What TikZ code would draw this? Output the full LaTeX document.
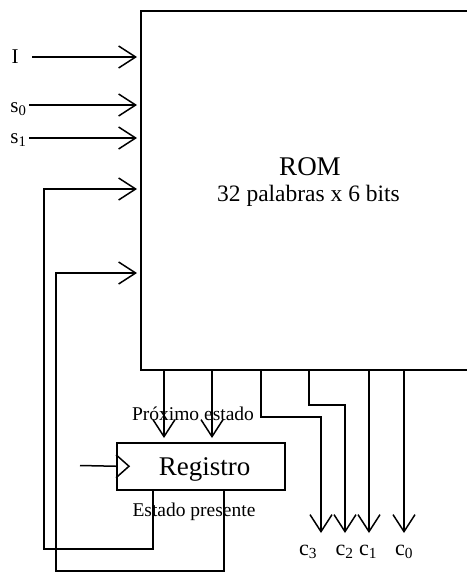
\documentclass[tikz,border=0pt]{standalone}
\usepackage{fontspec}
\setmainfont{Liberation Serif}
\usetikzlibrary{arrows.meta}
\begin{document}
\begin{tikzpicture}[x=1pt,y=-1pt,
  wire/.style={line width=1.5pt},
  arr/.style={wire,-{Straight Barb[length=17pt,width=22pt,line width=1.5pt]}},
  arrin/.style={arr,shorten >=3pt},
  lab/.style={inner sep=0pt,font=\fontsize{21}{21}\selectfont},
  clab/.style={inner sep=0pt,font=\fontsize{22}{22}\selectfont},
  small/.style={inner sep=0pt,font=\fontsize{19.5}{19.5}\selectfont},
  big/.style={inner sep=0pt,font=\fontsize{27}{27}\selectfont}]
\useasboundingbox (0,0) rectangle (466,573);
% ROM
\node[draw,wire,inner sep=0pt,minimum width=345pt,minimum height=359pt,anchor=north west] (rom) at (140,10) {};
\node[big,anchor=base] (romt) at (310,175) {ROM};
\node[inner sep=0pt,font=\fontsize{23.5}{23.5}\selectfont,anchor=base] (romd) at (308.5,201.5) {32 palabras x 6 bits};
% Register
\node[draw,wire,inner sep=0pt,minimum width=168pt,minimum height=47pt,anchor=north west] (reg) at (116,442) {};
\node[big,anchor=base] (regt) at (204.5,475) {Registro};
\draw[wire] (reg.west) ++(0,-11.5) -- ++(13,11.5) -- ++(-13,11.5);
\coordinate (clk) at (80,465.5);
\draw[wire] (clk) -- (reg.west);
% inputs
\node[lab,anchor=base] (lI) at (15,63.5) {I};
\node[lab,anchor=base] (ls0) at (18.5,112) {s\textsubscript{0}};
\node[lab,anchor=base] (ls1) at (18.5,143) {s\textsubscript{1}};
\coordinate (iI) at (32,57);
\coordinate (is0) at (29,105);
\coordinate (is1) at (29,138);
\draw[arrin] (iI) -- (iI -| rom.west);
\draw[arrin] (is0) -- (is0 -| rom.west);
\draw[arrin] (is1) -- (is1 -| rom.west);
% next-state lines
\coordinate (n1) at (164,369);
\coordinate (n2) at (212,369);
\draw[arr,shorten >=4pt] (n1) -- (n1 |- reg.north);
\draw[arr,shorten >=4pt] (n2) -- (n2 |- reg.north);
\node[small,anchor=base] (pe) at (193,420.5) {Próximo estado};
% feedback
\coordinate (f1) at (153,489);
\coordinate (f2) at (224,489);
\coordinate (r1) at (140,189);
\coordinate (r2) at (140,273);
\draw[arrin] (f1) -- (153,549) -| (44,189) -- (r1);
\draw[arrin] (f2) -- (224,571) -| (56,273) -- (r2);
\node[small,anchor=base] (ep) at (194,516.5) {Estado presente};
% outputs
\coordinate (o3) at (261,369);
\coordinate (o2) at (309,369);
\coordinate (o1) at (369,369);
\coordinate (o0) at (404,369);
\coordinate (t3) at (321,533);
\coordinate (t2) at (345,533);
\coordinate (t1) at (369,533);
\coordinate (t0) at (404,533);
\draw[arr] (o3) -- (261,417) -| (t3);
\draw[arr] (o2) -- (309,405) -| (t2);
\draw[arr] (o1) -- (t1);
\draw[arr] (o0) -- (t0);
\node[clab,anchor=base] (c3) at (308,555) {c\textsubscript{3}};
\node[clab,anchor=base] (c2) at (344.5,555) {c\textsubscript{2}};
\node[clab,anchor=base] (c1) at (368,555) {c\textsubscript{1}};
\node[clab,anchor=base] (c0) at (404,555) {c\textsubscript{0}};
\end{tikzpicture}
\end{document}
